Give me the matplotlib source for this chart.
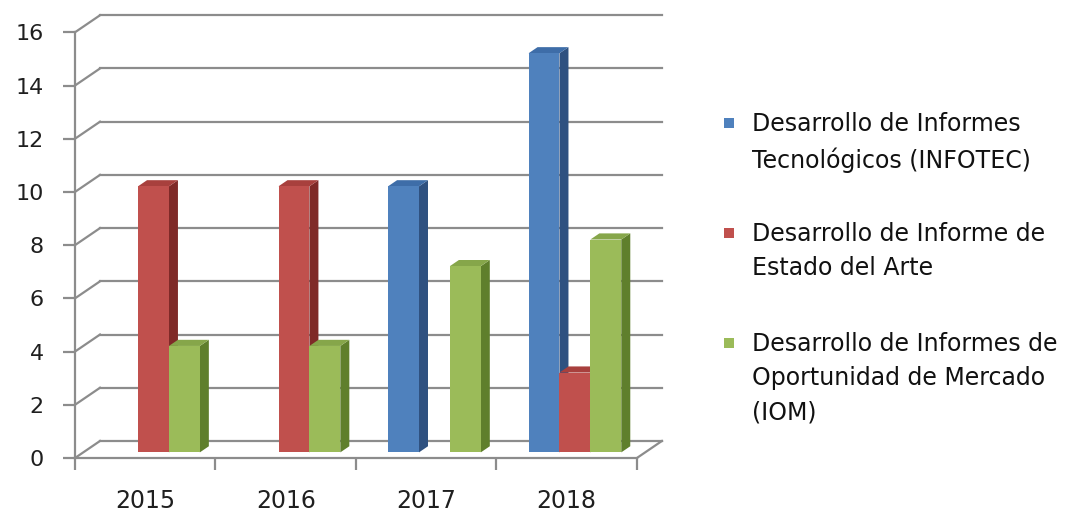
import matplotlib.pyplot as plt
from matplotlib.patches import Polygon, Rectangle

# Datos por año
anios = ["2015", "2016", "2017", "2018"]
infotec = [0, 0, 10, 15]
estado_arte = [10, 10, 0, 3]
iom = [4, 4, 7, 8]

etiquetas = [
    "Desarrollo de Informes\nTecnológicos (INFOTEC)",
    "Desarrollo de Informe de\nEstado del Arte",
    "Desarrollo de Informes de\nOportunidad de Mercado\n(IOM)",
]
valores = [infotec, estado_arte, iom]
# (frente, lado, tapa)
colores = [
    ("#4F81BD", "#2F5180", "#3E6DA8"),
    ("#C0504D", "#7F2A28", "#A8403D"),
    ("#9BBB59", "#5F7F2C", "#86A64A"),
]

W, H, DPI = 1087, 511, 100
fig = plt.figure(figsize=(W / DPI, H / DPI), dpi=DPI)
ax = fig.add_axes([75 / W, 53 / H, 590 / W, 447 / H])
ax.set_xlim(0, 4.2)
ax.set_ylim(0, 16.8)

# profundidad del "3D": desplazamiento de la pared del fondo
DX, DY = 0.178, 0.64
gris = "#8C8C8C"

for v in range(0, 17, 2):
    ax.plot([0, DX], [v, v + DY], color=gris, lw=1.6, clip_on=False, zorder=1)
    ax.plot([DX, 4 + DX], [v + DY, v + DY], color=gris, lw=1.6, clip_on=False, zorder=1)
ax.plot([4, 4 + DX], [0, DY], color=gris, lw=1.6, clip_on=False, zorder=1)

# barras con cara frontal, lateral y superior
ancho = 0.22
f0, fd = 0.33, 0.36
base = f0 * DY
z = 3
for i in range(len(anios)):
    for j, serie in enumerate(valores):
        h = serie[i]
        if h == 0:
            continue
        x = i + 0.5 - 1.5 * ancho + j * ancho + f0 * DX
        cf, cl, ct = colores[j]
        lado = Polygon([(x + ancho, base), (x + ancho + fd * DX, base + fd * DY),
                        (x + ancho + fd * DX, base + h + fd * DY), (x + ancho, base + h)],
                       closed=True, fc=cl, ec="none", zorder=z, clip_on=False)
        tapa = Polygon([(x, base + h), (x + fd * DX, base + h + fd * DY),
                        (x + ancho + fd * DX, base + h + fd * DY), (x + ancho, base + h)],
                       closed=True, fc=ct, ec="none", zorder=z, clip_on=False)
        ax.add_patch(lado)
        ax.add_patch(tapa)
        ax.bar(x, h, width=ancho, bottom=base, align="edge", color=cf,
               zorder=z + 1, clip_on=False)
        z += 2

# ejes
for s in ["top", "right"]:
    ax.spines[s].set_visible(False)
ax.spines["left"].set_bounds(0, 16)
ax.spines["bottom"].set_bounds(0, 4)
for s in ["left", "bottom"]:
    ax.spines[s].set_color(gris)
    ax.spines[s].set_linewidth(1.6)
    ax.spines[s].set_zorder(2)

ax.set_yticks(range(0, 17, 2))
ax.set_xticks([0, 1, 2, 3, 4])
ax.set_xticklabels([])
ax.set_xticks([i + 0.5 for i in range(4)], minor=True)
ax.set_xticklabels(anios, minor=True)
ax.tick_params(axis="y", length=8.5, width=1.6, color=gris, pad=14,
               labelsize=16, labelcolor="#1f1f1f")
ax.tick_params(axis="x", which="major", length=8.5, width=1.6, color=gris)
ax.tick_params(axis="x", which="minor", length=0, pad=22,
               labelsize=17, labelcolor="#1f1f1f")

# leyenda
y0 = 123
for k, (txt, col) in enumerate(zip(etiquetas, colores)):
    yc = y0 + k * 110
    fig.patches.append(Rectangle((724 / W, 1 - (yc + 5) / H), 10 / W, 10 / H,
                                 transform=fig.transFigure, fc=col[0], ec="none"))
    fig.text(752 / W, 1 - (yc - 11) / H, txt, fontsize=17, color="#111111",
             va="top", ha="left", linespacing=1.55)

fig.savefig("out.png", dpi=DPI)
